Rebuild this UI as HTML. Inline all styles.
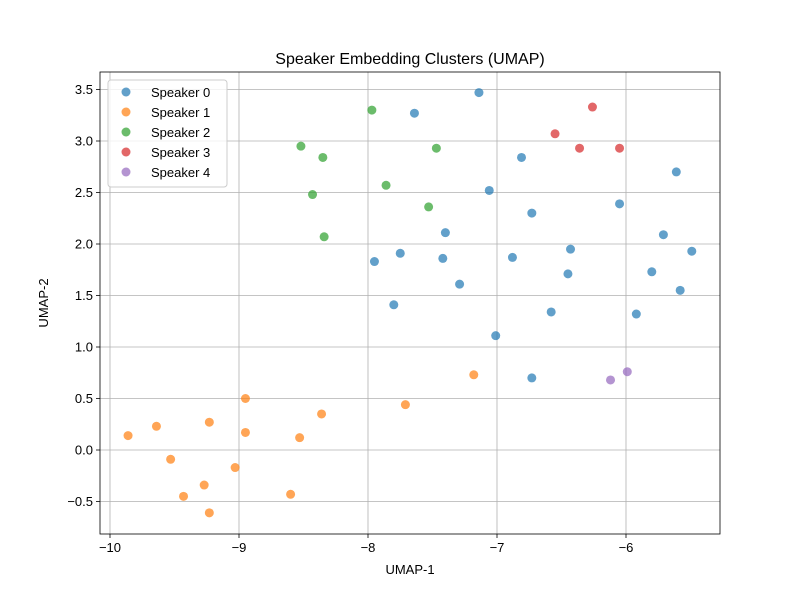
<!DOCTYPE html>
<html><head><meta charset="utf-8"><style>
body{margin:0;background:#fff}
svg{display:block;font-family:"Liberation Sans","DejaVu Sans",sans-serif}
</style></head><body>
<svg id="chart" width="800" height="600" xmlns="http://www.w3.org/2000/svg"></svg>
<script>
const seriesNames = ["Speaker 0","Speaker 1","Speaker 2","Speaker 3","Speaker 4"];
const seriesColors = ["#1f77b4","#ff7f0e","#2ca02c","#d62728","#9467bd"];
const s0x = [-7.14,-7.64,-6.81,-7.06,-6.73,-6.05,-5.61,-5.71,-5.49,-5.80,-5.58,-5.92,-6.43,-6.45,-6.58,-6.88,-7.01,-6.73,-7.40,-7.42,-7.29,-7.75,-7.95,-7.80];
const s0y = [3.47,3.27,2.84,2.52,2.30,2.39,2.70,2.09,1.93,1.73,1.55,1.32,1.95,1.71,1.34,1.87,1.11,0.70,2.11,1.86,1.61,1.91,1.83,1.41];
const s1x = [-9.86,-9.64,-9.23,-8.95,-8.95,-9.53,-9.03,-9.43,-9.27,-9.23,-8.60,-8.53,-8.36,-7.71,-7.18];
const s1y = [0.14,0.23,0.27,0.50,0.17,-0.09,-0.17,-0.45,-0.34,-0.61,-0.43,0.12,0.35,0.44,0.73];
const s2x = [-8.52,-8.35,-7.97,-7.47,-7.86,-8.43,-7.53,-8.34];
const s2y = [2.95,2.84,3.30,2.93,2.57,2.48,2.36,2.07];
const s3x = [-6.55,-6.26,-6.36,-6.05];
const s3y = [3.07,3.33,2.93,2.93];
const s4x = [-6.12,-5.99];
const s4y = [0.68,0.76];
const xTicks = [-10,-9,-8,-7,-6];
const yTicks = [-0.5,0.0,0.5,1.0,1.5,2.0,2.5,3.0,3.5];
const yTickLabels = ["−0.5","0.0","0.5","1.0","1.5","2.0","2.5","3.0","3.5"];

const NS="http://www.w3.org/2000/svg";
const svg=document.getElementById('chart');
const L=100,R=720,T=72,B=534;
const X=v=>110+(v+10)*129;
const Y=v=>450-v*103;
function mk(tag,attrs,parent){const e=document.createElementNS(NS,tag);for(const k in attrs)e.setAttribute(k,attrs[k]);(parent||svg).appendChild(e);return e;}

const grid=mk('g',{});


xTicks.forEach((t,i)=>{
  mk('line',{x1:X(t),x2:X(t),y1:T,y2:B,stroke:'#b0b0b0','stroke-width':0.8},grid);
  mk('line',{x1:X(t),x2:X(t),y1:B,y2:B+4,stroke:'#000','stroke-width':0.8});
  const tx=mk('text',{x:X(t),y:B+18,'text-anchor':'middle','font-size':13});
  tx.textContent=t===-10?"−10":"−"+Math.abs(t);
  
  
});
yTicks.forEach((t,i)=>{
  mk('line',{x1:L,x2:R,y1:Y(t),y2:Y(t),stroke:'#b0b0b0','stroke-width':0.8},grid);
  mk('line',{x1:L-4,x2:L,y1:Y(t),y2:Y(t),stroke:'#000','stroke-width':0.8});
  const tx=mk('text',{x:L-7,y:Y(t)+4.5,'text-anchor':'end','font-size':13});
  tx.textContent=yTickLabels[i];
  
  
});

const xs=[s0x,s1x,s2x,s3x,s4x], ys=[s0y,s1y,s2y,s3y,s4y];
xs.forEach((arr,si)=>{
  const g=mk('g',{});
  
  
  arr.forEach((v,j)=>{
    const c=mk('circle',{cx:X(v),cy:Y(ys[si][j]),r:4.5,fill:seriesColors[si],'fill-opacity':0.7},g);
    
    
  });
});

const frame=mk('rect',{x:L,y:T,width:R-L,height:B-T,fill:'none',stroke:'#000','stroke-width':0.8});



const title=mk('text',{x:410,y:64,'text-anchor':'middle','font-size':16});
title.textContent="Speaker Embedding Clusters (UMAP)";


const xl=mk('text',{x:410,y:574,'text-anchor':'middle','font-size':13});
xl.textContent="UMAP-1";


const yl=mk('text',{x:48,y:303,'text-anchor':'middle','font-size':13,transform:'rotate(-90 48 303)'});
yl.textContent="UMAP-2";



const leg=mk('g',{});


mk('rect',{x:108,y:80,width:119,height:107,rx:3,fill:'#fff','fill-opacity':0.8,stroke:'#ccc','stroke-width':1},leg);
seriesNames.forEach((n,i)=>{
  const e=mk('g',{},leg);
  
  
  mk('circle',{cx:126,cy:92+i*20,r:4.5,fill:seriesColors[i],'fill-opacity':0.7},e);
  const t=mk('text',{x:151,y:97+i*20,'font-size':13},e);
  t.textContent=n;
});
</script>
</body></html>
